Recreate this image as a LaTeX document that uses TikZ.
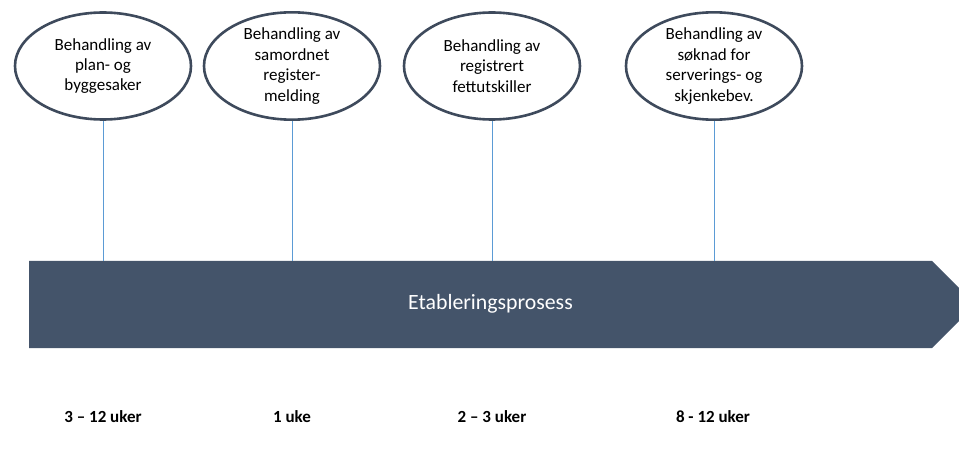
\documentclass[tikz,border=0pt]{standalone}
\usepackage{fontspec}
\setmainfont{Carlito}
\usetikzlibrary{shapes.geometric}
\definecolor{barblue}{HTML}{44546A}
\definecolor{ellline}{HTML}{3E4A5C}
\definecolor{linkblue}{HTML}{5B9BD5}
\tikzset{
  stage/.style={ellipse, draw=ellline, line width=2.6pt, fill=white,
    minimum width=176pt, minimum height=107pt, inner sep=0pt,
    align=center, font=\fontsize{17pt}{20.4pt}\selectfont, text=black},
  link/.style={draw=linkblue, line width=0.9pt},
  dur/.style={font=\fontsize{17pt}{19pt}\selectfont\bfseries, text=black, inner sep=0pt}
}
\begin{document}
\begin{tikzpicture}[x=1pt,y=-1pt]
\useasboundingbox (0,0) rectangle (959,449);
\fill[barblue] (29,261) -- (932,261) -- (975.5,304.5) -- (932,348) -- (29,348) -- cycle;
\coordinate (bartop) at (0,261);
\node[text=white, font=\fontsize{21.8pt}{24pt}\selectfont, inner sep=0pt] (bar) at (490.5,304) {Etableringsprosess};
\node[stage] (e1) at (103,66) {Behandling av\\plan- og\\byggesaker};
\node[stage] (e2) at (292,66) {Behandling av\\samordnet\\register-\\melding};
\node[stage] (e3) at (492,66) {Behandling av\\registrert\\fettutskiller};
\node[stage] (e4) at (714,66) {Behandling av\\søknad for\\serverings- og\\skjenkebev.};
\foreach \e in {e1,e2,e3,e4}{
  \draw[link] (\e.south) -- (\e.south |- bartop);
}
\node[dur] (d1) at (103,417) {3 – 12 uker};
\node[dur] (d2) at (292,417) {1 uke};
\node[dur] (d3) at (492,417) {2 – 3 uker};
\node[dur] (d4) at (713,417) {8 - 12 uker};
\end{tikzpicture}
\end{document}
